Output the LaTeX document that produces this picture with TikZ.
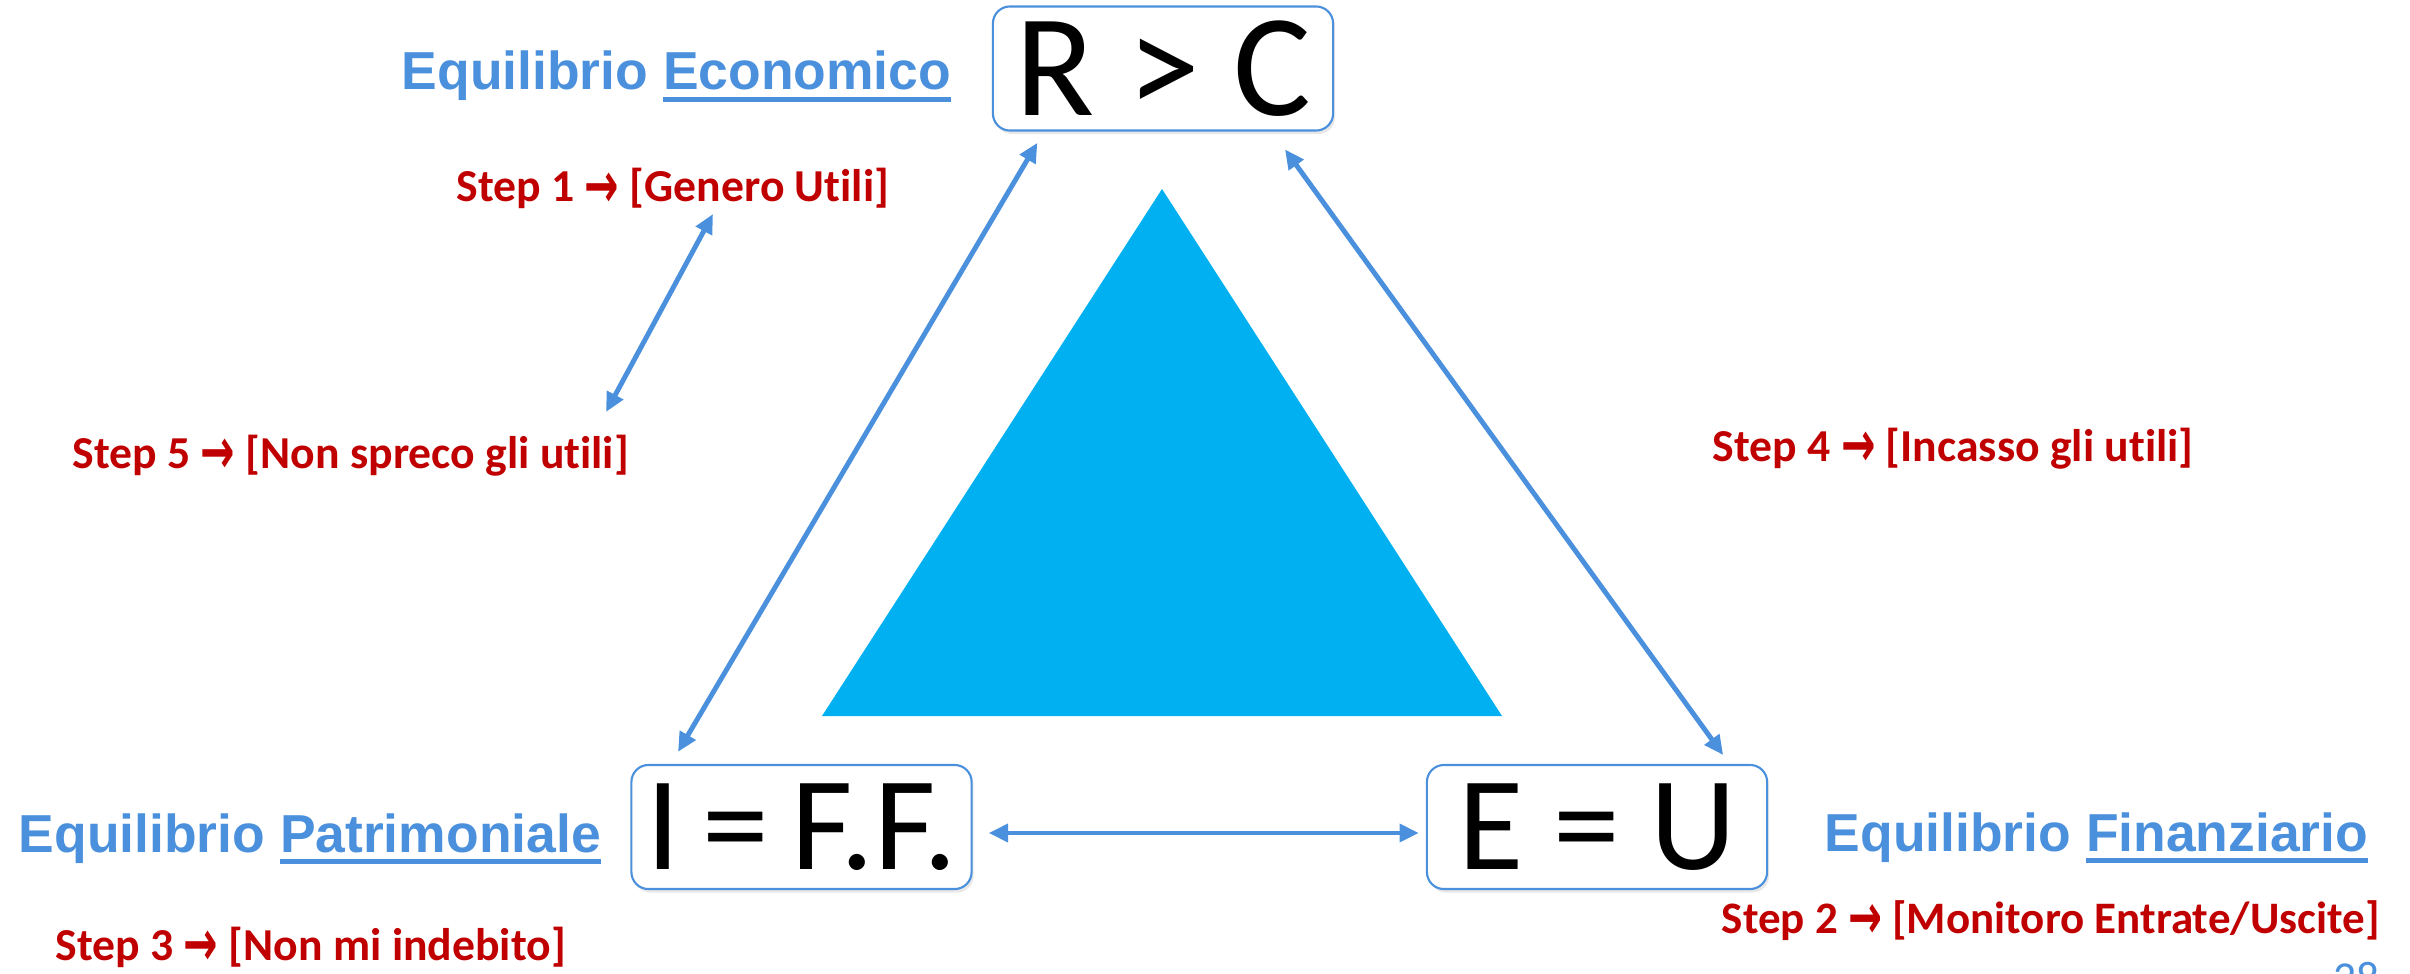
\documentclass[tikz,border=0pt]{standalone}
\usepackage{fontspec}
\setmainfont{Carlito}[Ligatures=CommonOff]
\newfontfamily\headfont{Liberation Sans}
\newfontfamily\symfont{DejaVu Sans}
\usetikzlibrary{arrows.meta, shadows}
\definecolor{lineblue}{RGB}{74,144,220}
\definecolor{triblue} {RGB}{0,176,240}
\definecolor{stepred} {RGB}{192,0,0}
\newsavebox{\ulbox}
\newcommand{\ulword}[1]{\sbox{\ulbox}{#1}\rlap{\rule[-3.4pt]{\wd\ulbox}{1.4pt}}\usebox{\ulbox}}
\newcommand{\goesto}{\raisebox{-1.6pt}{\scalebox{0.9}[1.4]{\symfont\bfseries →}}}

\begin{document}
\begin{tikzpicture}[x=0.01cm, y=-0.01cm,
  eqbox/.style={draw=lineblue, line width=0.6pt, fill=white, rounded corners=0.17cm,
    minimum width=3.4cm, minimum height=1.24cm, inner sep=0pt,
    font=\fontsize{38}{40}\selectfont,
    drop shadow={shadow xshift=0.6pt, shadow yshift=-1pt, opacity=0.18}},
  eqlabel/.style={text=lineblue, inner sep=0pt, anchor=base west,
    font=\headfont\bfseries\fontsize{15.2}{18}\selectfont},
  steplabel/.style={text=stepred, inner sep=0pt, anchor=base west,
    font=\bfseries\fontsize{13}{15}\selectfont},
  link/.style={lineblue, line width=1.4pt,
    {Triangle[length=5.5pt, width=5pt]}-{Triangle[length=5.5pt, width=5pt]}}]
  \useasboundingbox (0,0) rectangle (2410,973);
  % central triangle
  \fill[triblue] (1162,189) -- (822,716) -- (1502,716) -- cycle;
  % the three equilibria
  \node[eqbox, font=\fontsize{41.5}{42}\selectfont] (rc) at (1163,68.5) {R > C};
  \node[eqbox] (iff) at (801.5,827) {I\hspace{0.17em}=\hspace{0.17em}F.F.};
  \node[eqbox] (eu)  at (1597,827)  {E = U};
  % titles
  \node[eqlabel] (econ) at (401,90)  {Equilibrio \ulword{Economico}};
  \node[eqlabel] (patr) at (18,852)  {Equilibrio \ulword{Patrimoniale}};
  \node[eqlabel] (fin)  at (1824,851) {Equilibrio \ulword{Finanziario}};
  % steps
  \node[steplabel] (s1) at (456,202) {Step 1 \goesto{} [Genero Utili]};
  \node[steplabel, font=\bfseries\fontsize{12.8}{15}\selectfont]
    (s2) at (1721,933) {Step 2 \goesto{} [Monitoro Entrate/Uscite]};
  \node[steplabel] (s3) at (55,960)  {Step 3 \goesto{} [Non mi indebito]};
  \node[steplabel] (s4) at (1712,461) {Step 4 \goesto{} [Incasso gli utili]};
  \node[steplabel] (s5) at (72,468)  {Step 5 \goesto{} [Non spreco gli utili]};
  % connectors
  \draw[link, shorten <=0.13cm, shorten >=0.14cm]
    ([xshift=-1.19cm]rc.south) -- ([xshift=-1.305cm]iff.north);
  \draw[link, shorten <=0.22cm, shorten >=0.11cm]
    ([xshift=1.09cm]rc.south) -- ([xshift=1.325cm]eu.north);
  \draw[link, shorten <=0.16cm, shorten >=0.07cm]
    ([yshift=-0.06cm]iff.east) -- ([yshift=-0.06cm]eu.west);
  \coordinate (gtop) at (713,214);
  \coordinate (gbot) at (606,412);
  \draw[link] (gtop) -- (gbot);
  % page number
  \node[text=lineblue, inner sep=0pt, anchor=north west, font=\fontsize{13}{14}\selectfont]
    (page) at (2333,962) {28};
\end{tikzpicture}
\end{document}
